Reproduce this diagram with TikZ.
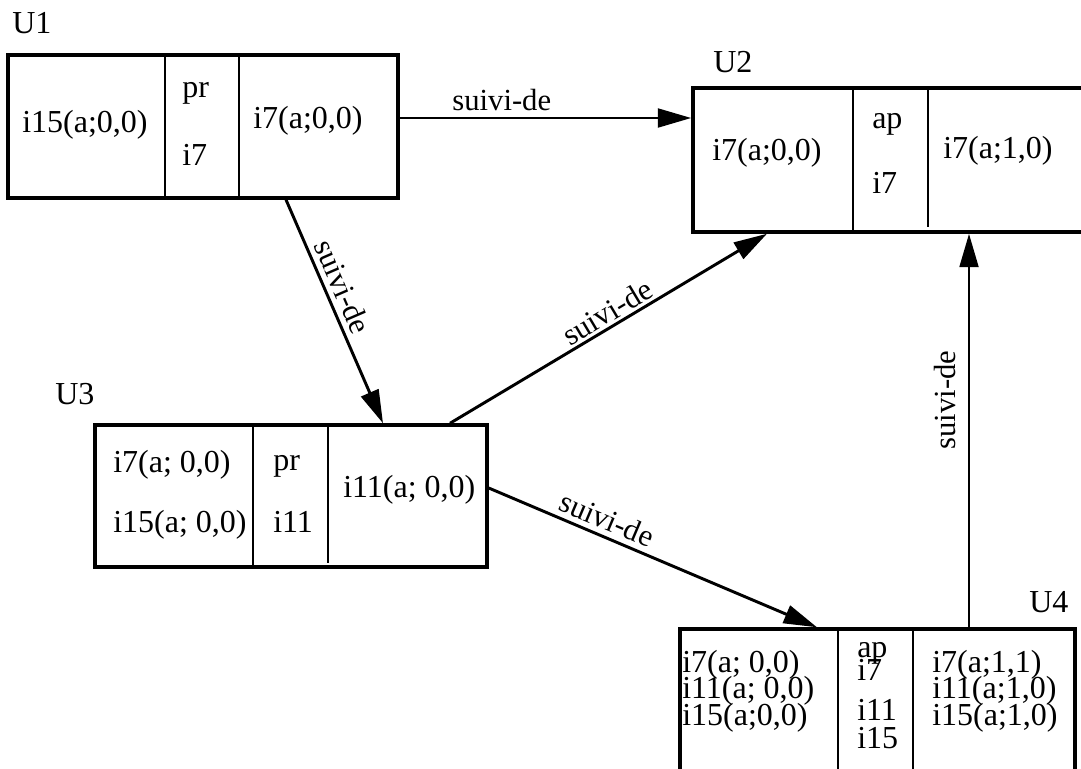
\documentclass[tikz,border=0pt]{standalone}
\usepackage{fontspec}
\setmainfont{Liberation Serif}
\usetikzlibrary{arrows.meta,fit,calc}
\begin{document}
\begin{tikzpicture}[x=0.75pt,y=-0.75pt,
  box/.style={draw, line width=2.6pt, inner sep=0pt},
  divider/.style={line width=2.2pt},
  txt/.style={anchor=base west, inner sep=0pt, font=\fontsize{24}{28}\selectfont},
  edge/.style={line width=2.2pt, -{Triangle[length=25pt,width=14pt]}},
  elabel/.style={font=\fontsize{23}{27}\selectfont, sloped, above, inner sep=4pt}
]
\useasboundingbox (0,0) rectangle (1081,768);
\clip (0,0) rectangle (1081,768);
\fill[white] (0,0) rectangle (1081,768);

% boxes
\node[box, fit={(8,55) (398,198)}] (u1) {};
\node[box, fit={(693,88) (1110,232)}] (u2) {};
\node[box, fit={(95,425) (487,567)}] (u3) {};
\node[box, fit={(680,629) (1075,800)}] (u4) {};

% dividers
\draw[divider] (165,55) -- (165,198);
\draw[divider] (239,55) -- (239,198);
\draw[divider] (853,88) -- (853,232);
\draw[divider] (928,88) -- (928,227);
\draw[divider] (253,425) -- (253,567);
\draw[divider] (328,425) -- (328,563);
\draw[divider] (838,629) -- (838,800);
\draw[divider] (913,629) -- (913,800);

% box names
\node[txt] (n1) at (12,33) {U1};
\node[txt] (n2) at (713,72) {U2};
\node[txt] (n3) at (55,404) {U3};
\node[txt] (n4) at (1029,612) {U4};

% U1 contents
\node[txt] (u1a) at (22,132) {i15(a;0,0)};
\node[txt] (u1b) at (182,97) {pr};
\node[txt] (u1c) at (182,165) {i7};
\node[txt] (u1d) at (253,128) {i7(a;0,0)};

% U2 contents
\node[txt] (u2a) at (712,160) {i7(a;0,0)};
\node[txt] (u2b) at (872,128) {ap};
\node[txt] (u2c) at (872,193) {i7};
\node[txt] (u2d) at (943,158) {i7(a;1,0)};

% U3 contents
\node[txt] (u3a) at (113,472) {i7(a; 0,0)};
\node[txt] (u3b) at (113,532) {i15(a; 0,0)};
\node[txt] (u3c) at (273,470) {pr};
\node[txt] (u3d) at (273,532) {i11};
\node[txt] (u3e) at (343,497) {i11(a; 0,0)};

% U4 contents
\node[txt] (u4a) at (682,672) {i7(a; 0,0)};
\node[txt] (u4b) at (682,698) {i11(a; 0,0)};
\node[txt] (u4c) at (682,725) {i15(a;0,0)};
\node[txt] (u4d) at (857,657) {ap};
\node[txt] (u4e) at (857,680) {i7};
\node[txt] (u4f) at (857,720) {i11};
\node[txt] (u4g) at (857,748) {i15};
\node[txt] (u4h) at (932,672) {i7(a;1,1)};
\node[txt] (u4i) at (932,698) {i11(a;1,0)};
\node[txt] (u4j) at (932,725) {i15(a;1,0)};

% connectors
\draw[edge] (u1.east |- 0,118) -- node[elabel, pos=0.35] (l1) {suivi-de} (u2.west |- 0,118);
\draw[edge] (u1.south -| 286,0) -- node[elabel, pos=0.42] (l2) {suivi-de} (u3.north -| 383,0);
\draw[edge] (u3.north -| 450,0) -- node[elabel, pos=0.52, inner sep=2pt] (l3) {suivi-de} (u2.south -| 767,0);
\draw[edge] (u3.east |- 0,488) -- node[elabel, pos=0.34] (l4) {suivi-de} (u4.north -| 817,0);
\draw[edge] (u4.north -| 969,0) -- node[elabel, pos=0.577, inner sep=9pt] (l5) {suivi-de} (u2.south -| 969,0);
\end{tikzpicture}
\end{document}
